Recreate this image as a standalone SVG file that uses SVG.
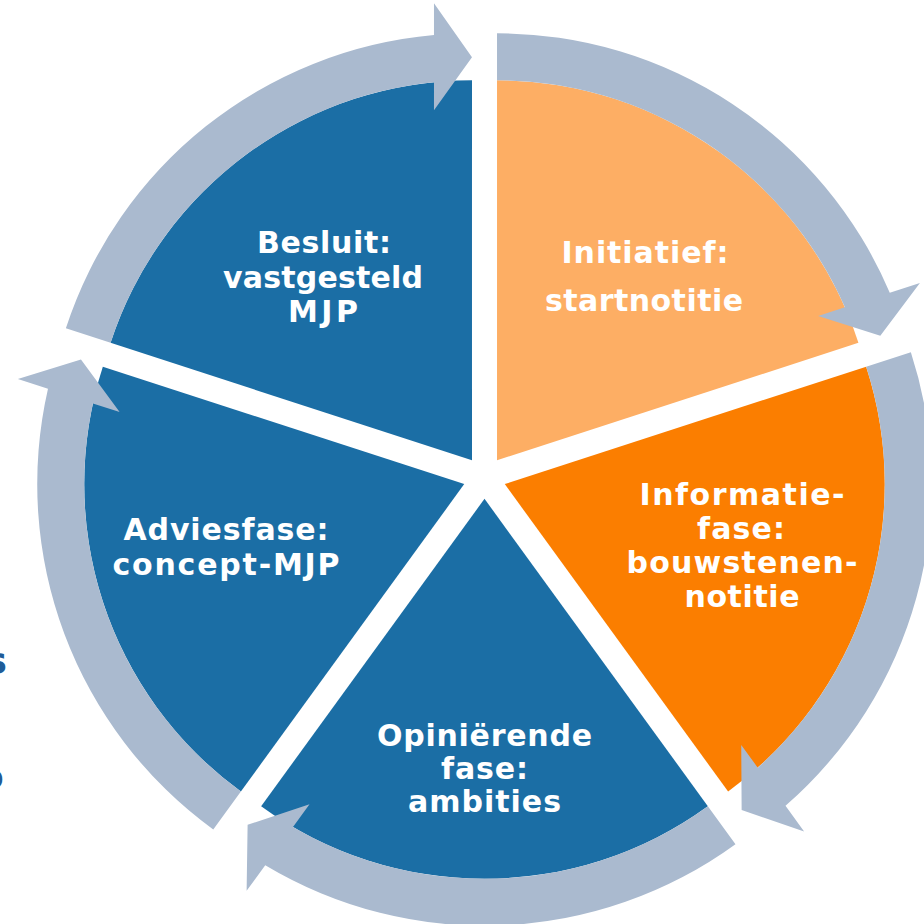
<svg xmlns="http://www.w3.org/2000/svg" width="924" height="924" viewBox="0 0 924 924">
  <style>
    .blue { fill: #1B6EA5; }
    .lorange { fill: #FDAE64; }
    .orange { fill: #FB7E00; }
    .arrow { fill: #AABACF; }
    .lbl { fill: #FFFFFF; font-family: "DejaVu Sans", Verdana, sans-serif; font-weight: bold; font-size: 30px; text-anchor: middle; }
    .frag { fill: #1F5C99; font-family: "DejaVu Sans", Verdana, sans-serif; font-weight: bold; font-size: 36px; }
  </style>
  <defs>
    <path id="wedge" d="M0,0 L0,-380 A380,380 0 0 1 361.40,-117.43 Z"/>
    <path id="carrow" d="M0,-427 A427,427 0 0 1 392.76,-167.57 L422.89,-177.36 L383.28,-124.53 L321.13,-144.30 L347.86,-152.98 A380,380 0 0 0 0,-380 Z"/>
  </defs>
  <rect width="924" height="924" fill="#FFFFFF"/>

  <text class="frag" x="-14.5" y="673">s</text>
  <text class="frag" x="-21" y="789">o</text>

  <g id="node-initiatief">
    <use href="#wedge" class="lorange" transform="translate(497.02,460.27)"/>
  </g>
  <g id="node-informatie">
    <use href="#wedge" class="orange" transform="translate(504.76,484.08) rotate(72)"/>
  </g>
  <g id="node-opinierende">
    <use href="#wedge" class="blue" transform="translate(484.5,498.8) rotate(144)"/>
  </g>
  <g id="node-adviesfase">
    <use href="#wedge" class="blue" transform="translate(464.24,484.08) rotate(216)"/>
  </g>
  <g id="node-besluit">
    <use href="#wedge" class="blue" transform="translate(471.98,460.27) rotate(288)"/>
  </g>

  <g id="connectors">
    <use href="#carrow" class="arrow" transform="translate(497.02,460.27)"/>
    <use href="#carrow" class="arrow" transform="translate(504.76,484.08) rotate(72)"/>
    <use href="#carrow" class="arrow" transform="translate(484.5,498.8) rotate(144)"/>
    <use href="#carrow" class="arrow" transform="translate(464.24,484.08) rotate(216)"/>
    <use href="#carrow" class="arrow" transform="translate(471.98,460.27) rotate(288)"/>
  </g>

  <g id="labels">
    <text class="lbl" x="645" y="263" textLength="167" lengthAdjust="spacing">Initiatief:</text>
    <text class="lbl" x="644" y="311" textLength="198" lengthAdjust="spacing">startnotitie</text>

    <text class="lbl" x="742" y="505" textLength="205" lengthAdjust="spacing">Informatie-</text>
    <text class="lbl" x="741" y="539" textLength="88" lengthAdjust="spacing">fase:</text>
    <text class="lbl" x="742" y="573" textLength="231" lengthAdjust="spacing">bouwstenen-</text>
    <text class="lbl" x="742" y="607" textLength="115" lengthAdjust="spacing">notitie</text>

    <text class="lbl" x="484.5" y="746" textLength="215" lengthAdjust="spacing">Opiniërende</text>
    <text class="lbl" x="484.5" y="779" textLength="87" lengthAdjust="spacing">fase:</text>
    <text class="lbl" x="484.5" y="812" textLength="153" lengthAdjust="spacing">ambities</text>

    <text class="lbl" x="226" y="540" textLength="205" lengthAdjust="spacing">Adviesfase:</text>
    <text class="lbl" x="226" y="575" textLength="227" lengthAdjust="spacing">concept-MJP</text>

    <text class="lbl" x="324" y="253" textLength="134" lengthAdjust="spacing">Besluit:</text>
    <text class="lbl" x="323" y="288" textLength="200" lengthAdjust="spacing">vastgesteld</text>
    <text class="lbl" x="323" y="322" textLength="70" lengthAdjust="spacing">MJP</text>
  </g>
</svg>
